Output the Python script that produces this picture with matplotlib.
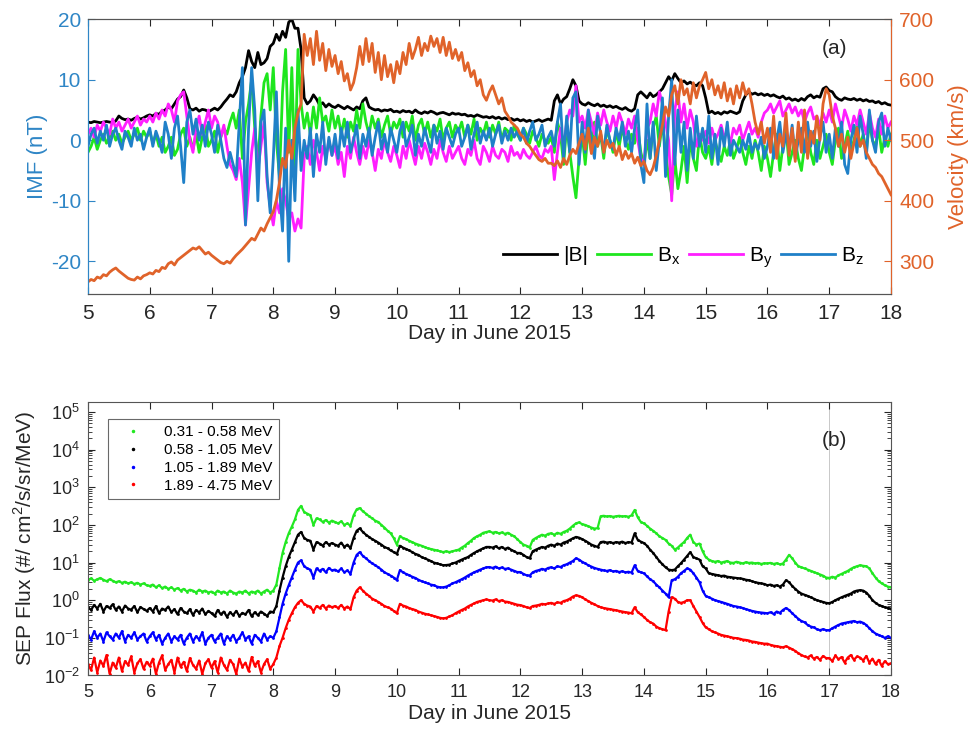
import numpy as np
import matplotlib
matplotlib.use("Agg")
import matplotlib.pyplot as plt
from matplotlib.lines import Line2D
from matplotlib.ticker import LogLocator, NullFormatter

plt.rcParams['font.family'] = ['Liberation Sans', 'DejaVu Sans']
plt.rcParams['axes.unicode_minus'] = False
plt.rcParams['mathtext.fontset'] = 'custom'
plt.rcParams['mathtext.rm'] = 'Liberation Sans'

# sampling grid: every 0.05 day from June 5 to June 18
day = np.linspace(5, 18, 261)

# ---- panel (a): IMF (nT) and solar wind speed (km/s) ----
B = [3.0, 2.9, 3.1, 3.0, 2.9, 3.0, 3.1, 3.0, 2.9, 3.2, 4.0, 3.6, 3.4, 3.5, 3.3, 3.6, 3.8, 3.5, 3.7, 4.0,
     4.2, 4.0, 4.4, 4.3, 4.8, 5.0, 5.5, 5.2, 6.0, 6.8, 7.2, 8.3, 7.0, 5.2, 5.0, 5.3, 4.8, 5.1, 5.0, 4.7,
     5.0, 5.3, 5.0, 5.5, 6.2, 6.8, 7.5, 7.2, 8.0, 9.5, 10.5, 12.0, 14.8, 13.0, 12.0, 14.5, 12.5, 12.8, 13.5, 15.5,
     16.0, 17.5, 16.5, 18.0, 17.0, 19.5, 20.0, 18.5, 18.5, 15.0, 7.0, 6.0, 6.5, 7.5, 6.8, 5.8, 6.2, 5.5, 6.0, 5.6,
     5.4, 5.8, 5.5, 5.2, 5.6, 5.3, 5.0, 5.5, 5.2, 6.5, 7.0, 5.5, 5.2, 5.0, 5.1, 4.8, 5.0, 4.9, 5.1, 4.7,
     4.8, 4.6, 4.9, 4.7, 4.8, 4.5, 5.0, 4.6, 4.4, 4.7, 4.5, 4.8, 4.6, 4.3, 4.5, 4.6, 4.4, 4.2, 4.5, 4.3,
     4.4, 4.2, 4.3, 4.0, 4.1, 3.9, 4.2, 4.0, 3.8, 3.9, 3.7, 3.9, 3.6, 3.8, 3.5, 3.7, 3.4, 3.6, 3.3, 3.5,
     3.2, 3.4, 3.1, 3.3, 3.0, 3.2, 3.4, 3.1, 3.3, 3.5, 3.3, 6.5, 7.5, 6.0, 6.8, 7.2, 8.5, 10.0, 9.0, 6.5,
     6.0, 5.8, 6.2, 5.9, 5.7, 6.0, 5.6, 5.8, 5.5, 5.7, 5.4, 5.6, 5.3, 5.1, 5.4, 5.0, 4.8, 5.2, 7.5, 8.0,
     7.5, 7.0, 7.8, 7.2, 7.5, 8.0, 8.5, 9.5, 10.5, 9.8, 11.0, 10.2, 9.5, 9.8, 9.3, 9.6, 9.2, 9.0, 9.5, 9.0,
     7.0, 4.5, 4.8, 4.4, 4.6, 4.3, 4.7, 4.5, 4.8, 4.6, 4.4, 4.7, 6.5, 7.5, 8.0, 7.6, 7.8, 7.5, 7.7, 7.4,
     7.6, 7.3, 7.5, 7.2, 7.0, 7.3, 6.8, 7.0, 6.6, 6.8, 6.5, 6.9, 6.6, 7.2, 7.5, 7.0, 7.3, 7.1, 8.5, 8.8,
     8.2, 8.0, 7.2, 6.8, 6.6, 7.0, 6.8, 6.7, 6.9, 6.6, 6.8, 6.5, 6.7, 6.4, 6.5, 6.2, 6.4, 6.0, 6.2, 5.9,
     5.8]

Bx = [-2.0, -1.0, 0.5, -1.5, 0.0, 1.0, -0.5, 0.5, 1.5, 0.0, 1.0, -0.5, 0.5, 1.5, 0.0, 1.0, 2.0, 0.0, 1.5, 0.5,
      1.5, -0.5, 1.0, -1.0, 0.5, -2.0, -1.0, 0.5, -2.5, -1.5, 1.0, 2.0, -1.0, 0.5, -1.5, 1.0, -2.0, 0.5, 2.5, -1.0,
      0.0, 1.5, -2.0, 0.5, 2.0, 1.0, 3.0, 4.5, 2.0, 5.0, -3.0, 3.0, 6.0, 10.0, 2.0, -4.0, 4.0, 9.5, 11.0, 5.0,
      12.0, 0.0, -6.0, 8.0, 15.0, -2.0, 12.0, -5.0, 15.0, 6.0, 2.0, 4.5, 1.0, 5.5, 2.0, 7.0, 3.0, 4.0, 1.5, 5.0,
      2.0, 4.0, 1.0, 3.5, 0.5, 3.0, 1.5, 5.0, 2.0, 6.0, 3.0, 1.0, 4.0, 2.0, 3.5, 0.5, 2.5, 4.0, 1.0, 3.0,
      2.0, 3.5, 0.5, 3.0, 1.5, 4.0, 0.0, 2.5, 3.5, 1.0, 3.0, 0.5, 2.5, 1.5, 3.5, 0.0, 2.0, 3.0, 0.5, 2.5,
      1.5, 3.0, 0.5, 2.5, 1.0, 3.5, 0.0, 2.0, 1.0, 3.0, 0.5, 2.5, 1.0, 3.0, 0.0, 2.0, 1.5, 0.0, 2.5, 1.0,
      0.0, 2.0, 1.0, -0.5, 1.5, 0.5, -1.0, 1.0, 0.0, -0.5, 0.5, -2.0, 3.0, 1.0, -4.0, 2.5, -2.0, -6.0, -9.5, -3.0,
      1.0, -4.0, 2.0, -2.0, 3.0, -1.0, 1.0, -3.0, 2.0, 0.0, -2.0, 1.5, -1.0, 2.0, 0.0, -1.5, 1.0, -0.5, 2.0, -2.0,
      -4.0, 0.0, -3.0, 2.0, 4.0, -1.0, 3.0, -2.0, -6.0, -9.0, -3.0, -8.0, -5.0, -1.0, -7.0, 0.0, -3.0, -5.0, 1.0, -2.0,
      -3.0, -1.0, -4.0, 0.0, -2.0, -3.5, -1.0, -2.5, 0.0, -3.0, -1.5, 0.5, -2.0, -4.0, -1.0, -3.0, 0.0, -2.0, -5.0, -1.0,
      -3.0, -6.0, -2.0, 1.0, -5.0, -1.0, 2.0, -4.0, -2.0, 0.0, -3.0, -5.0, -1.0, 1.5, -2.0, -4.0, 0.0, -3.0, -1.0, 1.0,
      -2.0, -4.0, 0.0, 2.0, -3.0, -1.0, 1.5, -2.0, 0.0, 2.5, -1.0, 1.0, -2.0, 3.0, 0.0, -1.0, 2.0, -2.0, 0.5, -1.0,
      1.0]

By = [1.0, 2.0, 0.5, 2.5, 1.5, 3.0, 2.0, 1.0, 3.5, 2.0, 3.0, 1.5, 2.5, 3.5, 2.0, 3.0, 4.0, 2.5, 3.5, 3.0,
      4.0, 3.0, 4.5, 3.5, 5.0, 4.0, 6.0, 5.0, 3.0, 6.5, 7.5, 8.0, 4.0, 0.0, -2.0, 2.0, 4.0, 1.0, 3.0, 5.0,
      2.0, 4.0, 3.0, 0.5, 2.5, -1.0, -4.0, -5.0, -6.5, -3.0, -7.0, -14.0, -8.0, -2.0, 2.0, -5.0, -1.0, 3.0, -7.0, -11.0,
      -14.0, -10.0, -12.0, -8.0, -10.0, -13.0, -12.0, -15.0, -13.0, -14.5, -3.0, -1.0, -4.0, 0.0, -2.0, -5.0, -1.0, -3.0, 0.0, -2.5,
      -1.0, -4.0, -2.0, -6.0, -1.0, -3.0, 0.5, -2.0, -4.0, -1.0, -3.0, 0.0, -2.0, -5.0, -1.5, -3.0, 0.0, -2.0, -3.5, -1.0,
      -2.5, -4.5, -1.0, -3.0, 0.0, -2.0, -4.0, -1.0, -3.0, -0.5, -2.0, -4.0, -1.5, -3.0, 0.0, -2.0, -3.5, -1.0, -3.0, -2.0,
      -1.0, -3.0, -4.0, -1.5, -2.5, 0.0, -3.0, -4.0, -1.0, -2.0, -3.5, -1.0, -2.5, -3.0, -1.5, -2.0, -3.5, -1.0, -2.5, -2.0,
      -3.0, -1.5, -2.5, -3.0, -2.0, -1.0, -2.5, -3.0, -1.5, -2.0, -1.0, -6.5, -2.0, 2.0, -1.0, 3.0, 5.0, 4.0, 9.0, 3.0,
      4.0, 2.0, 5.0, 3.0, 1.0, 4.5, 2.5, 5.0, 3.0, 1.5, 4.0, 2.0, 4.5, 3.0, 1.0, 3.5, 2.0, 4.0, 0.0, -3.0,
      -4.0, 2.0, 3.0, 6.0, 4.0, 8.0, 6.0, 3.0, 0.0, -10.0, 5.0, 8.0, 3.0, 6.0, 2.0, 5.0, 3.0, -1.0, 1.0, 0.0,
      1.5, -0.5, 2.0, 0.0, 1.0, 2.5, 0.5, 1.5, -0.5, 2.0, 1.0, 2.5, 0.0, 1.5, 3.0, 1.0, 2.0, 0.5, 3.0, 4.5,
      5.0, 6.0, 4.5, 5.5, 6.5, 4.0, 5.0, 6.0, 4.5, 5.5, 4.0, 5.0, 3.0, 4.5, 5.5, 3.5, 4.0, 2.5, 4.5, 3.0,
      5.0, 3.0, 6.0, 4.0, 2.0, 5.0, 3.5, 1.5, 4.0, 2.5, 5.0, 3.0, 1.0, 4.5, 2.0, 0.5, 3.5, 1.0, 4.0, 2.0,
      3.0]

Bz = [-1.0, 1.0, 2.0, -0.5, 1.5, 0.0, 2.5, -1.0, 1.0, 2.0, 0.0, -1.5, 1.5, 0.5, -1.0, 2.0, 0.0, 1.0, -1.5, 0.5,
      2.0, -1.0, 1.5, 0.0, -2.0, 3.0, 1.0, -3.0, 2.0, 4.0, -1.0, -7.0, 3.0, 5.0, 1.0, 3.5, 0.0, 2.5, -1.0, 3.0,
      1.0, -2.0, 2.5, 0.0, -3.0, -4.5, -2.0, -4.0, -6.0, 3.0, 12.0, -14.0, 2.0, 12.0, 5.0, -10.0, 3.0, 5.0, -6.0, -12.0,
      -3.0, 8.0, -8.0, -15.0, 2.0, -20.0, 0.0, -10.0, 5.0, -5.0, 0.0, -3.0, 2.0, -6.0, 1.0, -2.0, 3.0, -4.0, 0.5, -2.5,
      1.0, -3.0, 2.0, -1.0, 3.0, -2.0, 0.0, 2.5, -3.0, 1.0, -1.0, 2.0, -2.5, 0.5, 3.0, -1.5, 1.0, -2.0, 2.0, 0.0,
      -2.0, 1.5, 3.0, -1.0, 0.5, 2.5, -2.5, 1.0, -1.0, 2.0, 0.0, -2.0, 2.5, -0.5, 1.5, -1.5, 2.0, 0.5, -1.0, 1.0,
      2.0, -1.0, 0.5, 2.5, -1.5, 1.0, 3.0, -0.5, 1.5, 0.0, 2.0, -1.0, 1.0, 2.5, -0.5, 1.5, 0.0, 2.0, 0.5, 1.5,
      0.0, 2.0, -0.5, 1.5, 3.0, 0.0, 1.0, 2.5, -1.0, 0.5, 1.5, -1.0, 3.0, 6.0, -3.0, 4.0, -2.0, 7.0, 8.0, -4.0,
      3.0, -2.0, 5.0, 0.0, -3.0, 4.0, 1.0, -2.0, 2.5, 0.0, -1.5, 2.0, 0.0, 3.0, -1.0, 1.5, -2.0, 2.0, 5.0, -4.0,
      -7.0, 6.0, -3.0, 3.0, -5.0, 0.0, 7.0, -6.0, 4.0, 10.0, -4.0, 5.0, -2.0, 3.0, -5.0, 2.0, -3.0, 4.0, -1.0, 2.0,
      -2.0, 4.0, -3.0, 1.0, -4.0, 2.0, -1.0, 3.0, -2.5, 0.0, -1.0, -2.0, 0.0, -1.5, 1.0, -2.0, -0.5, -1.5, 0.5, -3.0,
      -1.0, 2.0, -3.0, 0.0, 3.0, -2.0, 1.0, -1.5, 2.5, -3.0, 0.0, 2.0, -2.0, 3.0, -1.0, 1.5, -3.5, 0.5, 3.0, -2.0,
      1.0, -3.0, 2.0, -1.0, 3.0, -4.0, -5.5, 0.0, 2.5, -2.0, 4.0, 1.0, -3.0, 5.0, 0.0, -2.0, 3.0, 4.5, -1.0, 2.0,
      0.0]

V = [266, 270, 268, 274, 272, 278, 276, 282, 286, 289, 284, 280, 276, 272, 270, 269, 274, 271, 276, 278,
     281, 279, 285, 283, 290, 288, 296, 299, 294, 302, 306, 310, 314, 318, 322, 320, 324, 318, 312, 315,
     310, 306, 302, 298, 296, 300, 297, 304, 310, 315, 320, 326, 332, 338, 335, 345, 355, 350, 362, 372,
     382, 401, 430, 470, 455, 500, 470, 520, 545, 560, 675, 640, 668, 625, 680, 632, 660, 615, 650, 622,
     640, 610, 630, 598, 610, 583, 595, 620, 655, 625, 668, 630, 660, 612, 645, 600, 640, 605, 625, 595,
     630, 610, 645, 625, 660, 635, 650, 670, 640, 660, 648, 672, 655, 668, 645, 670, 640, 662, 635, 650,
     632, 645, 615, 628, 605, 615, 590, 600, 575, 566, 580, 590, 575, 560, 570, 548, 540, 530, 525, 520,
     510, 505, 495, 490, 482, 475, 468, 465, 470, 462, 462, 458, 466, 455, 470, 460, 475, 485, 478, 495,
     510, 485, 520, 478, 505, 490, 515, 480, 500, 488, 495, 475, 490, 468, 482, 470, 478, 462, 472, 458,
     465, 450, 443, 455, 475, 500, 525, 555, 540, 575, 590, 560, 600, 575, 585, 560, 595, 570, 590, 600,
     612, 585, 600, 575, 590, 570, 595, 565, 585, 560, 590, 570, 595, 575, 585, 560, 530, 510, 530, 495,
     520, 480, 540, 470, 510, 490, 545, 475, 520, 465, 530, 480, 550, 470, 515, 495, 540, 500, 560, 585,
     575, 540, 520, 490, 510, 480, 505, 470, 495, 520, 490, 500, 480, 470, 460, 455, 445, 440, 430, 420,
     410]

# ---- panel (b): SEP proton flux per energy channel ----
channels = ['0.31 - 0.58 MeV', '0.58 - 1.05 MeV', '1.05 - 1.89 MeV', '1.89 - 4.75 MeV']

flux_g = [3.4, 3.8, 3.3, 3.6, 3.9, 3.5, 3.2, 3.6, 3.3, 3.0, 3.2, 2.9, 3.1, 2.8, 3.0, 2.7, 2.9, 2.6, 2.8, 2.5,
          2.4, 2.6, 2.2, 2.5, 2.1, 2.3, 2.0, 2.2, 1.9, 2.1, 1.8, 2.0, 1.7, 1.9, 1.8, 1.6, 1.9, 1.7, 1.8, 1.6,
          1.7, 1.5, 1.8, 1.6, 1.7, 1.5, 1.8, 1.6, 1.5, 1.7, 1.6, 1.8, 1.5, 1.7, 1.6, 1.8, 1.5, 1.7, 1.9, 1.6,
          1.8, 2.6, 7.0, 18, 35, 60, 90, 140, 250, 320, 220, 200, 180, 100, 150, 140, 120, 135, 115, 130,
          120, 110, 125, 100, 110, 95, 180, 260, 280, 230, 200, 170, 150, 130, 120, 100, 85, 70, 60, 45,
          30, 50, 45, 42, 38, 35, 32, 30, 28, 26, 24, 23, 22, 21, 20, 19, 20, 19, 20, 21,
          22, 25, 28, 33, 38, 45, 50, 55, 62, 65, 68, 62, 65, 60, 63, 58, 62, 55, 50, 42,
          35, 30, 28, 25, 40, 45, 50, 55, 52, 58, 60, 55, 62, 58, 65, 70, 80, 95, 110, 117,
          105, 100, 92, 85, 80, 82, 170, 175, 168, 172, 165, 170, 175, 168, 172, 165, 180, 250, 160, 120,
          110, 95, 80, 70, 60, 50, 45, 40, 32, 28, 22, 25, 30, 35, 45, 55, 35, 30, 32, 20,
          14, 12, 11, 10.5, 11, 10, 10.5, 11, 10, 9.8, 10.5, 10, 9.5, 10.2, 9.8, 10, 9.5, 9.8, 9.2, 9.6,
          9.5, 9.8, 9.2, 9.6, 9.0, 9.4, 12, 16, 13, 10, 8.0, 7.5, 7.0, 6.5, 6.0, 5.6, 5.2, 4.8, 4.5, 4.0,
          3.9, 4.2, 4.0, 4.6, 5.0, 5.5, 6.0, 6.8, 7.5, 8.0, 8.5, 8.2, 8.0, 7.0, 5.2, 4.0, 3.2, 2.8, 2.5, 2.3,
          2.2]

flux_k = [0.65, 0.55, 0.75, 0.6, 0.8, 0.5, 0.7, 0.62, 0.78, 0.55, 0.68, 0.5, 0.72, 0.6, 0.56, 0.7, 0.48, 0.66, 0.58, 0.52,
          0.62, 0.5, 0.7, 0.45, 0.6, 0.55, 0.68, 0.48, 0.58, 0.42, 0.62, 0.5, 0.45, 0.58, 0.4, 0.55, 0.47, 0.6, 0.42, 0.52,
          0.45, 0.38, 0.55, 0.42, 0.5, 0.36, 0.48, 0.4, 0.52, 0.38, 0.46, 0.42, 0.55, 0.37, 0.48, 0.4, 0.5, 0.44, 0.38, 0.5,
          0.48, 0.7, 1.8, 4.0, 8.0, 14, 22, 35, 55, 65, 45, 40, 38, 22, 35, 32, 28, 35, 30, 33,
          30, 28, 34, 26, 30, 24, 45, 70, 81, 65, 55, 48, 42, 38, 34, 30, 26, 24, 21, 19,
          17, 28, 25, 23, 21, 19, 17, 16, 14, 13, 12, 11, 10, 9.5, 9.0, 8.5, 8.6, 8.8, 9.5, 10,
          11, 12, 13, 14, 16, 18, 20, 22, 24, 26, 26, 25, 27, 24, 26, 23, 25, 22, 20, 18,
          18, 16, 14, 13, 20, 22, 24, 26, 25, 28, 30, 28, 32, 30, 34, 36, 40, 44, 48, 46,
          42, 38, 34, 30, 28, 26, 35, 36, 34, 35, 33, 35, 34, 36, 33, 35, 34, 60, 40, 36,
          33, 28, 22, 18, 14, 11, 9.0, 7.5, 6.5, 6.3, 6.5, 8.0, 9.6, 12, 15, 19, 14, 13, 12, 8.0,
          7.0, 5.2, 5.0, 4.8, 4.6, 4.4, 4.5, 4.2, 4.1, 4.0, 3.9, 3.8, 3.7, 3.5, 3.4, 3.2, 3.0, 2.9, 2.8, 2.7,
          2.5, 2.6, 2.4, 2.5, 2.3, 2.6, 3.4, 3.0, 2.4, 2.0, 1.7, 1.5, 1.4, 1.3, 1.2, 1.1, 1.0, 0.95, 0.9, 0.85,
          0.83, 0.9, 1.0, 1.1, 1.2, 1.3, 1.4, 1.5, 1.7, 1.8, 1.85, 1.8, 1.6, 1.3, 1.0, 0.85, 0.75, 0.7, 0.65, 0.62,
          0.6]

flux_b = [0.12, 0.09, 0.15, 0.1, 0.13, 0.08, 0.14, 0.11, 0.09, 0.13, 0.1, 0.15, 0.08, 0.12, 0.1, 0.14, 0.09, 0.11, 0.13, 0.08,
          0.11, 0.14, 0.09, 0.12, 0.07, 0.1, 0.13, 0.08, 0.11, 0.09, 0.12, 0.07, 0.1, 0.13, 0.08, 0.11, 0.09, 0.14, 0.07, 0.1,
          0.12, 0.08, 0.1, 0.13, 0.07, 0.11, 0.09, 0.12, 0.08, 0.1, 0.14, 0.09, 0.11, 0.07, 0.12, 0.1, 0.08, 0.13, 0.09, 0.11,
          0.1, 0.15, 0.35, 0.8, 1.5, 2.5, 4.0, 6.5, 10, 11.5, 8.0, 7.0, 6.5, 4.0, 7.0, 6.0, 6.8, 5.5, 7.2, 6.2,
          6.5, 5.8, 7.0, 5.5, 6.2, 5.0, 10, 16, 19, 15, 13, 11, 9.5, 8.5, 7.5, 6.5, 5.5, 5.0, 4.5, 4.0,
          3.4, 6.3, 5.5, 5.0, 4.6, 4.2, 3.9, 3.5, 3.2, 3.0, 2.8, 2.6, 2.5, 2.3, 2.2, 2.2, 2.3, 2.5, 2.8, 3.0,
          3.3, 3.6, 4.0, 4.5, 5.0, 5.5, 6.0, 6.5, 7.0, 7.5, 7.6, 7.2, 7.8, 7.0, 7.4, 6.8, 7.0, 6.5, 6.0, 5.6,
          5.6, 5.0, 4.6, 4.5, 5.5, 6.0, 6.3, 6.8, 6.5, 7.2, 7.5, 7.0, 8.0, 7.6, 8.5, 9.0, 10, 11, 13, 12,
          10.5, 9.5, 8.5, 7.8, 7.2, 6.8, 6.5, 6.2, 6.0, 6.3, 5.8, 6.0, 5.6, 5.9, 5.5, 5.7, 5.4, 8.5, 6.0, 5.5,
          5.2, 4.3, 3.6, 3.2, 2.6, 2.2, 1.8, 1.5, 1.2, 3.4, 3.6, 4.2, 5.2, 6.0, 7.0, 6.5, 5.2, 4.0, 3.0, 1.8,
          1.3, 1.2, 1.1, 1.0, 0.95, 0.9, 0.85, 0.8, 0.75, 0.7, 0.68, 0.65, 0.62, 0.58, 0.55, 0.52, 0.5, 0.48, 0.47, 0.46,
          0.45, 0.48, 0.43, 0.5, 0.46, 0.55, 0.62, 0.55, 0.45, 0.38, 0.32, 0.28, 0.26, 0.22, 0.2, 0.19, 0.17, 0.16, 0.17, 0.16,
          0.16, 0.18, 0.2, 0.22, 0.24, 0.25, 0.26, 0.27, 0.28, 0.26, 0.27, 0.25, 0.22, 0.18, 0.15, 0.13, 0.12, 0.11, 0.1, 0.11,
          0.1]

flux_r = [0.02, 0.014, 0.03, 0.012, 0.025, 0.018, 0.035, 0.011, 0.022, 0.016, 0.03, 0.013, 0.024, 0.019, 0.032, 0.012, 0.021, 0.027, 0.015, 0.023,
          0.018, 0.028, 0.011, 0.022, 0.034, 0.014, 0.02, 0.026, 0.012, 0.03, 0.017, 0.023, 0.013, 0.029, 0.019, 0.015, 0.025, 0.011, 0.021, 0.027,
          0.016, 0.024, 0.012, 0.03, 0.019, 0.014, 0.026, 0.02, 0.011, 0.028, 0.017, 0.022, 0.013, 0.031, 0.018, 0.024, 0.012, 0.02, 0.027, 0.015,
          0.02, 0.03, 0.06, 0.1, 0.18, 0.3, 0.45, 0.65, 0.85, 1.0, 0.8, 0.72, 0.68, 0.5, 0.7, 0.62, 0.75, 0.6, 0.72, 0.65,
          0.7, 0.62, 0.75, 0.6, 0.68, 0.58, 1.2, 1.8, 2.2, 1.8, 1.5, 1.3, 1.1, 1.0, 0.9, 0.8, 0.7, 0.65, 0.6, 0.52,
          0.45, 0.8, 0.72, 0.68, 0.62, 0.58, 0.55, 0.5, 0.47, 0.44, 0.42, 0.4, 0.38, 0.36, 0.34, 0.33, 0.34, 0.37, 0.4, 0.45,
          0.5, 0.55, 0.6, 0.68, 0.75, 0.82, 0.9, 0.95, 1.0, 1.05, 1.0, 0.98, 1.05, 0.95, 1.0, 0.92, 0.9, 0.85, 0.8, 0.76,
          0.74, 0.7, 0.65, 0.62, 0.7, 0.72, 0.75, 0.8, 0.78, 0.82, 0.85, 0.8, 0.88, 0.85, 0.95, 1.0, 1.1, 1.25, 1.35, 1.3,
          1.2, 1.05, 0.95, 0.85, 0.78, 0.7, 0.65, 0.62, 0.6, 0.58, 0.56, 0.54, 0.52, 0.5, 0.48, 0.47, 0.45, 0.65, 0.48, 0.42,
          0.36, 0.3, 0.26, 0.24, 0.2, 0.18, 0.17, 0.16, 0.5, 1.2, 1.1, 0.9, 0.85, 0.9, 1.0, 1.0, 0.7, 0.5, 0.36, 0.25,
          0.19, 0.17, 0.15, 0.14, 0.13, 0.12, 0.115, 0.11, 0.105, 0.1, 0.098, 0.095, 0.09, 0.088, 0.085, 0.08, 0.078, 0.075, 0.072, 0.07,
          0.07, 0.065, 0.062, 0.06, 0.058, 0.056, 0.06, 0.055, 0.05, 0.045, 0.039, 0.035, 0.032, 0.03, 0.034, 0.028, 0.031, 0.026, 0.033, 0.029,
          0.029, 0.024, 0.034, 0.027, 0.031, 0.022, 0.03, 0.035, 0.026, 0.032, 0.03, 0.025, 0.033, 0.022, 0.028, 0.02, 0.026, 0.018, 0.024, 0.02,
          0.021]

blue = '#2f86c6'
orange = '#e0632a'
axc = '#262626'

fig = plt.figure(figsize=(9.71, 7.29), dpi=100)

# ---------------- panel (a) ----------------
ax1 = fig.add_axes([0.0906, 0.5967, 0.827, 0.377])
ax1.plot(day, B, color='k', lw=2.0, label='|B|')
ax1.plot(day, Bx, color='#1ee61e', lw=2.0, label=r'B$_\mathrm{x}$')
ax1.plot(day, By, color='#ff1eff', lw=2.0, label=r'B$_\mathrm{y}$')
ax1.plot(day, Bz, color='#1f80c8', lw=2.0, label=r'B$_\mathrm{z}$')
ax1.set_xlim(5, 18)
ax1.set_ylim(-25.4, 20)
ax1.set_xticks(range(5, 19))
ax1.set_yticks([-20, -10, 0, 10, 20])
ax1.tick_params(direction='in', top=True, labelsize=15, colors=axc, length=5, pad=7)
ax1.tick_params(axis='y', colors=blue, pad=5)
for s in ['top', 'bottom']:
    ax1.spines[s].set_color('#555555')
ax1.spines['left'].set_color(blue)
ax1.set_ylabel('IMF (nT)', color=blue, fontsize=16, labelpad=2)
ax1.set_xlabel('Day in June 2015', fontsize=15, color=axc, labelpad=1)
ax1.legend(loc='lower right', bbox_to_anchor=(0.99, 0.02), ncol=4, frameon=False,
           fontsize=15, handlelength=2.6, handletextpad=0.3, columnspacing=0.4)
ax1.text(0.93, 0.895, '(a)', transform=ax1.transAxes, fontsize=15,
         ha='center', va='center', color=axc)

ax2 = ax1.twinx()
ax2.plot(day, V, color=orange, lw=2.0)
ax2.set_ylim(246, 700)
ax2.set_yticks([300, 400, 500, 600, 700])
ax2.tick_params(direction='in', labelsize=15, colors=orange, length=5, pad=6)
ax2.spines['right'].set_color(orange)
ax2.spines['left'].set_color(blue)
ax2.spines['top'].set_color('#555555')
ax2.spines['bottom'].set_color('#555555')
ax2.set_ylabel('Velocity (km/s)', color=orange, fontsize=16, labelpad=10)

# ---------------- panel (b) ----------------
ax3 = fig.add_axes([0.0906, 0.0734, 0.827, 0.3752])
sep_colors = ['#22e822', 'k', '#0000ff', '#ff0000']
for vals, c in zip([flux_g, flux_k, flux_b, flux_r], sep_colors):
    ax3.plot(day, vals, color=c, lw=1.6, marker='.', ms=4, mew=0)
ax3.axvline(17, color='#c8c8c8', lw=0.7, zorder=0)
ax3.set_yscale('log')
ax3.set_xlim(5, 18)
ax3.set_ylim(1e-2, 1.85e5)
ax3.set_xticks(range(5, 19))
ax3.set_yticks([1e-2, 1e-1, 1e0, 1e1, 1e2, 1e3, 1e4, 1e5])
ax3.yaxis.set_minor_locator(LogLocator(base=10, subs=np.arange(2, 10), numticks=20))
ax3.yaxis.set_minor_formatter(NullFormatter())
ax3.tick_params(which='both', direction='in', top=True, right=True, colors=axc)
ax3.tick_params(which='major', labelsize=13, length=5, pad=6)
ax3.tick_params(which='minor', length=3)
for s in ax3.spines.values():
    s.set_color('#555555')
ax3.set_ylabel('SEP Flux (#/ cm$^2$/s/sr/MeV)', fontsize=15, color=axc, labelpad=4)
ax3.set_xlabel('Day in June 2015', fontsize=15, color=axc, labelpad=2)
handles = [Line2D([], [], ls='none', marker='.', ms=3, color=c) for c in sep_colors]
leg = ax3.legend(handles, channels, loc='upper left', bbox_to_anchor=(0.015, 0.965),
                 fontsize=11, frameon=True, fancybox=False, edgecolor='#444444',
                 handlelength=2.5, borderpad=0.4, labelspacing=0.25)
leg.get_frame().set_linewidth(0.8)
ax3.text(0.93, 0.86, '(b)', transform=ax3.transAxes, fontsize=15,
         ha='center', va='center', color=axc)

fig.savefig('out.png', dpi=100)
